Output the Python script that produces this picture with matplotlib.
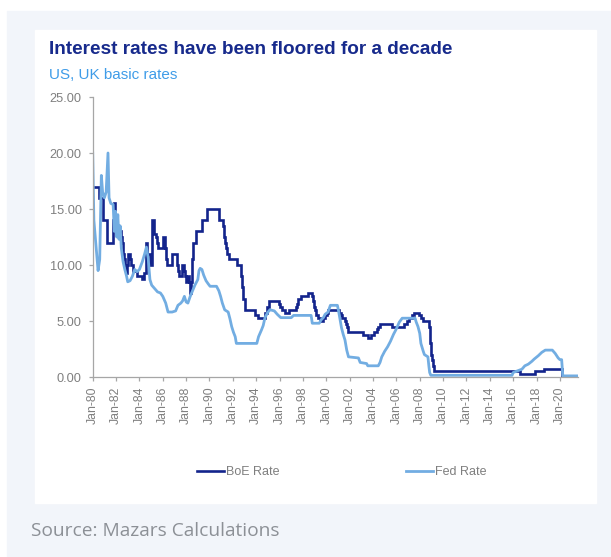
import matplotlib
matplotlib.use("Agg")
import matplotlib.pyplot as plt
from matplotlib.patches import Rectangle

# Bank of England base rate: (decimal year of change, new rate %)
boe_dates = [
    1980.00, 1980.54, 1980.87, 1981.20, 1981.71, 1981.79, 1981.87, 1982.04,
    1982.12, 1982.21, 1982.46, 1982.54, 1982.62, 1982.71, 1982.79, 1982.87,
    1982.92, 1983.04, 1983.21, 1983.29, 1983.46, 1983.79, 1984.21, 1984.37,
    1984.54, 1984.62, 1984.87, 1985.04, 1985.08, 1985.21, 1985.29, 1985.46,
    1985.54, 1985.62, 1986.04, 1986.21, 1986.29, 1986.37, 1986.79, 1987.21,
    1987.29, 1987.37, 1987.62, 1987.79, 1987.87, 1987.96, 1988.12, 1988.21,
    1988.29, 1988.37, 1988.45, 1988.50, 1988.54, 1988.62, 1988.87, 1989.37,
    1989.79, 1990.79, 1991.12, 1991.21, 1991.29, 1991.37, 1991.54, 1991.71,
    1992.37, 1992.71, 1992.79, 1992.87, 1993.04, 1993.87, 1994.12, 1994.71,
    1994.96, 1995.12, 1995.96, 1996.04, 1996.21, 1996.46, 1996.79, 1997.37,
    1997.46, 1997.54, 1997.62, 1997.87, 1998.46, 1998.79, 1998.87, 1998.96,
    1999.04, 1999.12, 1999.29, 1999.46, 1999.71, 1999.87, 2000.04, 2000.12,
    2001.12, 2001.29, 2001.37, 2001.62, 2001.71, 2001.79, 2001.87, 2003.12,
    2003.54, 2003.87, 2004.12, 2004.37, 2004.46, 2004.62, 2005.62, 2006.62,
    2006.87, 2007.04, 2007.37, 2007.54, 2007.96, 2008.12, 2008.29, 2008.79,
    2008.87, 2008.96, 2009.04, 2009.12, 2009.21, 2016.62, 2017.87, 2018.62,
    2020.21, 2021.55,
]
boe_rates = [
    17, 16, 14, 12, 14, 15.5, 14.5, 14,
    13.5, 13, 12.5, 12, 11, 10.5, 10, 9.25,
    10, 11, 10.5, 10, 9.5, 9, 8.75, 9.25,
    12, 11, 10, 12, 14, 13.5, 12.75, 12.5,
    12, 11.5, 12.5, 11.5, 10.5, 10, 11, 10,
    9.5, 9, 10, 9.5, 9, 8.5, 9, 8.5,
    8, 7.5, 8.5, 9.5, 10.5, 12, 13, 14,
    15, 14, 13.5, 12.5, 12, 11.5, 11, 10.5,
    10, 9, 8, 7, 6, 5.5, 5.25, 5.75,
    6.25, 6.75, 6.5, 6.25, 6, 5.75, 6, 6.25,
    6.5, 6.75, 7, 7.25, 7.5, 7.25, 6.75, 6.25,
    6, 5.5, 5.25, 5, 5.25, 5.5, 5.75, 6,
    5.75, 5.5, 5.25, 5, 4.75, 4.5, 4, 3.75,
    3.5, 3.75, 4, 4.25, 4.5, 4.75, 4.5, 4.75,
    5, 5.25, 5.5, 5.75, 5.5, 5.25, 5, 4.5,
    3, 2, 1.5, 1, 0.5, 0.25, 0.5, 0.75,
    0.1, 0.1,
]

# US Fed funds rate (decimal year, rate %)
fed_dates = [
    1980.00, 1980.10, 1980.46, 1980.60, 1980.74, 1980.85, 1981.00, 1981.15,
    1981.31, 1981.40, 1981.55, 1981.75, 1981.85, 1981.95, 1982.05, 1982.15,
    1982.25, 1982.35, 1982.45, 1982.60, 1982.75, 1982.90, 1983.00, 1983.20,
    1983.40, 1983.60, 1983.80, 1984.00, 1984.25, 1984.45, 1984.60, 1984.75,
    1984.90, 1985.05, 1985.30, 1985.55, 1985.80, 1986.00, 1986.25, 1986.45,
    1986.80, 1987.10, 1987.30, 1987.55, 1987.70, 1987.85, 1988.00, 1988.15,
    1988.35, 1988.55, 1988.75, 1989.00, 1989.10, 1989.20, 1989.35, 1989.50,
    1989.70, 1989.90, 1990.05, 1990.60, 1990.80, 1990.95, 1991.10, 1991.30,
    1991.60, 1991.75, 1991.90, 1992.05, 1992.20, 1992.30, 1994.05, 1994.20,
    1994.45, 1994.60, 1994.75, 1995.00, 1995.20, 1995.55, 1995.80, 1996.10,
    1997.00, 1997.20, 1998.70, 1998.80, 1999.40, 1999.55, 1999.75, 1999.90,
    2000.15, 2000.35, 2000.95, 2001.05, 2001.15, 2001.30, 2001.45, 2001.60,
    2001.75, 2001.90, 2002.75, 2002.90, 2003.45, 2003.55, 2004.45, 2004.60,
    2004.75, 2005.00, 2005.25, 2005.50, 2005.75, 2006.00, 2006.25, 2006.50,
    2007.60, 2007.70, 2007.85, 2008.00, 2008.10, 2008.30, 2008.40, 2008.70,
    2008.78, 2008.85, 2008.95, 2015.90, 2016.00, 2016.75, 2017.00, 2017.30,
    2017.60, 2017.80, 2018.15, 2018.45, 2018.75, 2019.35, 2019.60, 2019.85,
    2020.00, 2020.15, 2020.25, 2021.55,
]
fed_rates = [
    20.0, 14.0, 9.5, 10.5, 18.0, 16.5, 16.0, 16.5,
    20.0, 16.0, 15.5, 15.4, 13.0, 14.8, 12.5, 14.5,
    12.3, 13.5, 11.5, 10.3, 9.6, 9.0, 8.5, 8.6,
    9.0, 9.6, 9.4, 9.6, 10.3, 11.0, 11.6, 10.6,
    8.7, 8.2, 7.9, 7.6, 7.5, 7.2, 6.6, 5.8,
    5.8, 5.9, 6.4, 6.6, 6.8, 7.2, 6.7, 6.6,
    7.2, 7.7, 8.2, 8.7, 9.5, 9.7, 9.6, 9.1,
    8.6, 8.3, 8.1, 8.1, 7.7, 7.2, 6.6, 6.0,
    5.8, 5.2, 4.5, 4.0, 3.6, 3.0, 3.0, 3.6,
    4.2, 4.6, 5.3, 5.8, 6.0, 5.9, 5.6, 5.3,
    5.3, 5.5, 5.5, 4.8, 4.8, 5.1, 5.3, 5.6,
    5.8, 6.4, 6.4, 5.9, 5.3, 4.4, 3.8, 3.3,
    2.4, 1.8, 1.7, 1.3, 1.2, 1.0, 1.0, 1.3,
    1.8, 2.3, 2.7, 3.2, 3.8, 4.3, 4.9, 5.25,
    5.25, 4.9, 4.5, 3.9, 3.0, 2.3, 2.0, 1.8,
    1.0, 0.4, 0.15, 0.15, 0.4, 0.7, 1.0, 1.15,
    1.4, 1.6, 1.9, 2.2, 2.4, 2.4, 2.1, 1.7,
    1.55, 1.55, 0.1, 0.1,
]

tick_years = list(range(1980, 2021, 2))
tick_labels = ["Jan-%02d" % (y % 100) for y in tick_years]
y_ticks = [0, 5, 10, 15, 20, 25]

navy = "#13248c"
light = "#72ade2"
grey = "#7f7f7f"

W, H = 611, 557
fig = plt.figure(figsize=(W / 100, H / 100), dpi=100)
fig.patch.set_facecolor("white")

# page panel and white card behind the chart
fig.patches.append(Rectangle((7 / W, 0), 1 - 7 / W, (H - 11) / H,
                             transform=fig.transFigure, color="#f2f5fa", zorder=-2))
fig.patches.append(Rectangle((35 / W, (H - 503) / H), 561 / W, 473 / H,
                             transform=fig.transFigure, color="white", zorder=-1))

ax = fig.add_axes([92.7 / W, (H - 377) / H, (578 - 92.7) / W, 280 / H])
ax.set_facecolor("none")

ax.plot(boe_dates, boe_rates, drawstyle="steps-post", color=navy, lw=1.9,
        label="BoE Rate", solid_joinstyle="miter")
ax.plot(fed_dates, fed_rates, color=light, lw=2.0, label="Fed Rate")

ax.set_xlim(1980, 2021.55)
ax.set_ylim(0, 25)
ax.set_yticks(y_ticks)
ax.set_yticklabels(["%.2f" % v for v in y_ticks])
ax.set_xticks(tick_years)
ax.set_xticklabels(tick_labels, rotation=90)

for s in ("top", "right"):
    ax.spines[s].set_visible(False)
for s in ("left", "bottom"):
    ax.spines[s].set_color("#a6a6a6")
    ax.spines[s].set_linewidth(0.9)
ax.tick_params(axis="both", colors="#a6a6a6", labelcolor=grey, length=3,
               width=0.9, direction="out")
ax.tick_params(axis="y", labelsize=9.2, pad=5)
ax.tick_params(axis="x", labelsize=8.8, pad=4)
for lab in ax.get_xticklabels() + ax.get_yticklabels():
    lab.set_family("Liberation Sans")

fig.text(49 / W, (H - 50) / H, "Interest rates have been floored for a decade",
         family="Liberation Sans", weight="bold", fontsize=13.7, color="#172a8c",
         va="center")
fig.text(49 / W, (H - 75) / H, "US, UK basic rates", family="Liberation Sans",
         fontsize=11, color="#3f9ce8", va="center")

fig.legend(loc="center", bbox_to_anchor=(341.5 / W, (H - 472) / H), ncol=2,
           frameon=False, handlelength=2.2, handletextpad=0.15, columnspacing=10.1,
           prop={"family": "Liberation Sans", "size": 9}, labelcolor=grey)

fig.text(31 / W, (H - 531) / H, "Source: Mazars Calculations", family="Open Sans",
         fontsize=13.8, color="#8c9096", va="center")

fig.savefig("out.png", dpi=100, facecolor=fig.get_facecolor())
